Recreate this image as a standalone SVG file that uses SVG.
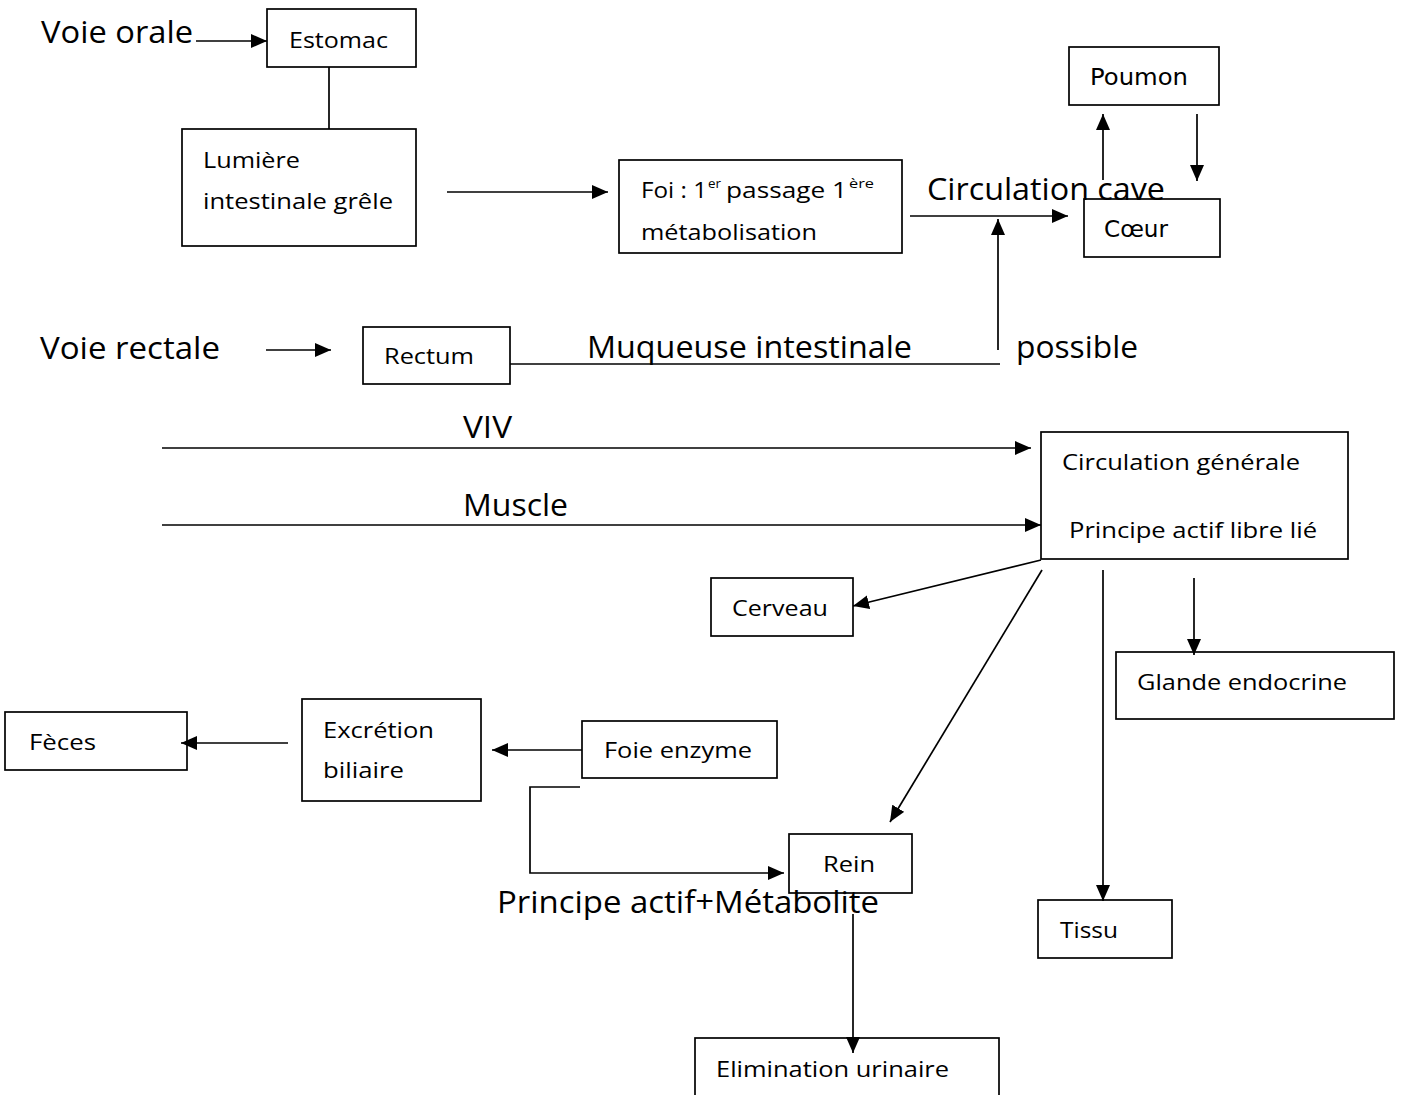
<svg xmlns="http://www.w3.org/2000/svg" width="1407" height="1095" viewBox="0 0 1407 1095">
<style>
  .box { fill: #fff; stroke: #000; stroke-width: 1.7; }
  .ln { fill: none; stroke: #000; stroke-width: 1.7; }
  .arr { marker-end: url(#ah); }
  text { font-family: "Open Sans", "Liberation Sans", sans-serif; fill: #000; }
  .big { font-size: 31px; }
  .sm { font-size: 21px; }
  .sup { font-size: 13px; }
  .dv { font-family: "DejaVu Sans", sans-serif; font-size: 23px; }
</style>
<defs>
  <marker id="ah" markerUnits="userSpaceOnUse" markerWidth="16" markerHeight="14" refX="16" refY="7" orient="auto">
    <path d="M0,0 L16,7 L0,14 z" fill="#000"/>
  </marker>
</defs>
<rect width="1407" height="1095" fill="#fff"/>

<g id="estomac">
  <rect class="box" x="267" y="9" width="149" height="58"/>
  <text class="sm" x="289" y="48" textLength="99" lengthAdjust="spacingAndGlyphs">Estomac</text>
</g>
<g id="lumiere">
  <rect class="box" x="182" y="129" width="234" height="117"/>
  <text class="sm" x="203" y="168" textLength="97" lengthAdjust="spacingAndGlyphs">Lumière</text>
  <text class="sm" x="203" y="209" textLength="190" lengthAdjust="spacingAndGlyphs">intestinale grêle</text>
</g>
<g id="foi">
  <rect class="box" x="619" y="160" width="283" height="93"/>
  <text class="sm" x="641" y="198" textLength="66" lengthAdjust="spacingAndGlyphs">Foi : 1</text>
  <text class="sup" x="708" y="188" textLength="13" lengthAdjust="spacingAndGlyphs">er</text>
  <text class="sm" x="726" y="198" textLength="121" lengthAdjust="spacingAndGlyphs">passage 1</text>
  <text class="sup" x="849" y="188" textLength="25" lengthAdjust="spacingAndGlyphs">ère</text>
  <text class="sm" x="641" y="240" textLength="176" lengthAdjust="spacingAndGlyphs">métabolisation</text>
</g>
<g id="poumon">
  <rect class="box" x="1069" y="47" width="150" height="58"/>
  <text class="dv" x="1090" y="85" textLength="98" lengthAdjust="spacingAndGlyphs">Poumon</text>
</g>
<g id="coeur">
  <rect class="box" x="1084" y="199" width="136" height="58"/>
  <text class="dv" x="1104" y="237" textLength="64" lengthAdjust="spacingAndGlyphs">Cœur</text>
</g>
<g id="rectum">
  <rect class="box" x="363" y="327" width="147" height="57"/>
  <text class="sm" x="384" y="364" textLength="90" lengthAdjust="spacingAndGlyphs">Rectum</text>
</g>
<g id="circulation-generale">
  <rect class="box" x="1041" y="432" width="307" height="127"/>
  <text class="sm" x="1062" y="470" textLength="238" lengthAdjust="spacingAndGlyphs">Circulation générale</text>
  <text class="sm" x="1069" y="538" textLength="248" lengthAdjust="spacingAndGlyphs">Principe actif libre lié</text>
</g>
<g id="cerveau">
  <rect class="box" x="711" y="578" width="142" height="58"/>
  <text class="sm" x="732" y="616" textLength="96" lengthAdjust="spacingAndGlyphs">Cerveau</text>
</g>
<g id="glande">
  <rect class="box" x="1116" y="652" width="278" height="67"/>
  <text class="sm" x="1137" y="690" textLength="210" lengthAdjust="spacingAndGlyphs">Glande endocrine</text>
</g>
<g id="tissu">
  <rect class="box" x="1038" y="900" width="134" height="58"/>
  <text class="sm" x="1060" y="938" textLength="58" lengthAdjust="spacingAndGlyphs">Tissu</text>
</g>
<g id="feces">
  <rect class="box" x="5" y="712" width="182" height="58"/>
  <text class="sm" x="29" y="750" textLength="67" lengthAdjust="spacingAndGlyphs">Fèces</text>
</g>
<g id="excretion">
  <rect class="box" x="302" y="699" width="179" height="102"/>
  <text class="sm" x="323" y="738" textLength="111" lengthAdjust="spacingAndGlyphs">Excrétion</text>
  <text class="sm" x="323" y="778" textLength="81" lengthAdjust="spacingAndGlyphs">biliaire</text>
</g>
<g id="foie-enzyme">
  <rect class="box" x="582" y="721" width="195" height="57"/>
  <text class="sm" x="604" y="758" textLength="148" lengthAdjust="spacingAndGlyphs">Foie enzyme</text>
</g>
<g id="rein">
  <rect class="box" x="789" y="834" width="123" height="59"/>
  <text class="sm" x="823" y="872" textLength="52" lengthAdjust="spacingAndGlyphs">Rein</text>
</g>
<g id="elimination">
  <rect class="box" x="695" y="1038" width="304" height="70"/>
  <text class="sm" x="716" y="1077" textLength="233" lengthAdjust="spacingAndGlyphs">Elimination urinaire</text>
</g>

<g id="connectors">
  <line class="ln arr" x1="196" y1="41" x2="267" y2="41"/>
  <line class="ln" x1="329" y1="67" x2="329" y2="129"/>
  <line class="ln arr" x1="447" y1="192" x2="608" y2="192"/>
  <line class="ln arr" x1="910" y1="216" x2="1068" y2="216"/>
  <line class="ln arr" x1="998" y1="350" x2="998" y2="219"/>
  <line class="ln arr" x1="1103" y1="180" x2="1103" y2="114"/>
  <line class="ln arr" x1="1197" y1="114" x2="1197" y2="181"/>
  <line class="ln arr" x1="266" y1="350" x2="331" y2="350"/>
  <line class="ln" x1="510" y1="364" x2="1000" y2="364"/>
  <line class="ln arr" x1="162" y1="448" x2="1031" y2="448"/>
  <line class="ln arr" x1="162" y1="525" x2="1041" y2="525"/>
  <line class="ln arr" x1="1041" y1="560" x2="853" y2="606"/>
  <line class="ln arr" x1="1042" y1="570" x2="890" y2="822"/>
  <line class="ln arr" x1="1103" y1="570" x2="1103" y2="901"/>
  <line class="ln arr" x1="1194" y1="578" x2="1194" y2="655"/>
  <line class="ln arr" x1="288" y1="743" x2="181" y2="743"/>
  <line class="ln arr" x1="582" y1="750" x2="492" y2="750"/>
  <polyline class="ln arr" points="580,787 530,787 530,873 784,873"/>
  <line class="ln arr" x1="853" y1="914" x2="853" y2="1053"/>
</g>

<g id="labels">
  <text class="big" x="41" y="43" textLength="152" lengthAdjust="spacingAndGlyphs">Voie orale</text>
  <text class="big" x="927" y="200" textLength="238" lengthAdjust="spacingAndGlyphs">Circulation cave</text>
  <text class="big" x="40" y="359" textLength="180" lengthAdjust="spacingAndGlyphs">Voie rectale</text>
  <text class="big" x="587" y="358" textLength="325" lengthAdjust="spacingAndGlyphs">Muqueuse intestinale</text>
  <text class="big" x="1016" y="358" textLength="122" lengthAdjust="spacingAndGlyphs">possible</text>
  <text class="big" x="463" y="438" textLength="49" lengthAdjust="spacingAndGlyphs">VIV</text>
  <text class="big" x="463" y="516" textLength="105" lengthAdjust="spacingAndGlyphs">Muscle</text>
  <text class="big" x="497" y="913" textLength="382" lengthAdjust="spacingAndGlyphs">Principe actif+Métabolite</text>
</g>
</svg>
